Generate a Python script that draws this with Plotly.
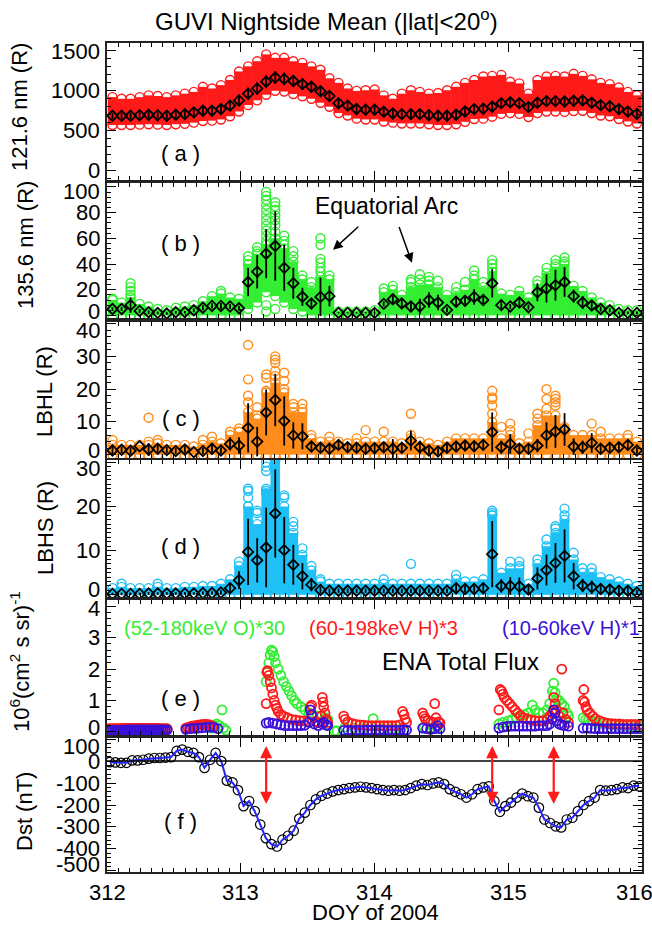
import plotly.graph_objects as go

# ---------------- data ----------------
orbit_doy = [312.041, 312.109, 312.176, 312.244, 312.311, 312.379, 312.447, 312.514, 312.582, 312.649,
             312.717, 312.785, 312.852, 312.920, 312.987, 313.055, 313.123, 313.190, 313.258, 313.325,
             313.393, 313.461, 313.528, 313.596, 313.663, 313.731, 313.799, 313.866, 313.934, 314.001,
             314.069, 314.137, 314.204, 314.272, 314.339, 314.407, 314.475, 314.542, 314.610, 314.677,
             314.745, 314.813, 314.880, 314.948, 315.015, 315.083, 315.151, 315.218, 315.286, 315.353,
             315.421, 315.489, 315.556, 315.624, 315.691, 315.759, 315.827, 315.894, 315.962]

# (a) 121.6 nm
lya_mean = [686, 686, 686, 694, 699, 694, 686, 699, 707, 729, 750, 750, 771, 814, 879, 964, 1029, 1114, 1166, 1149,
            1123, 1084, 1050, 994, 934, 844, 814, 771, 763, 763, 737, 716, 707, 707, 707, 694, 686, 686, 699, 740,
            770, 775, 800, 845, 855, 845, 795, 850, 870, 870, 865, 875, 880, 850, 820, 805, 770, 740, 710]
lya_std = [40, 40, 40, 45, 45, 45, 45, 50, 50, 55, 60, 60, 60, 65, 70, 75, 75, 80, 80, 80,
           75, 70, 70, 70, 65, 60, 55, 55, 50, 50, 50, 50, 50, 50, 50, 50, 50, 50, 50, 55,
           60, 60, 65, 65, 65, 65, 60, 65, 65, 65, 65, 70, 70, 65, 60, 60, 55, 55, 50]
lya_lo = [570, 570, 570, 575, 580, 575, 570, 580, 585, 600, 620, 625, 640, 680, 740, 820, 880, 950, 1000, 990,
          960, 930, 900, 850, 800, 720, 690, 650, 640, 640, 615, 600, 590, 590, 590, 580, 570, 570, 580, 610,
          645, 650, 675, 710, 720, 710, 670, 720, 740, 740, 735, 745, 750, 720, 690, 680, 645, 615, 590]
lya_hi = [921, 900, 900, 920, 943, 935, 921, 943, 964, 986, 1050, 1029, 1071, 1136, 1243, 1307, 1371, 1457, 1414, 1414,
          1371, 1350, 1307, 1264, 1157, 1100, 1029, 999, 1007, 1016, 943, 900, 964, 1007, 986, 964, 973, 1007, 1050, 1100,
          1136, 1179, 1187, 1200, 1114, 1093, 964, 1136, 1179, 1187, 1179, 1213, 1187, 1144, 1100, 1084, 1041, 986, 943]
lya_extra_k = []
lya_extra_v = []

# (b) 135.6 nm
oi_mean = [5, 5, 8, 3.5, 2.5, 2, 1.5, 2.5, 2.5, 4, 6, 7.4, 7.4, 7, 5.6, 26, 34, 48, 54, 37,
           25, 14.5, 9.3, 14.4, 15, 2, 2, 2, 2, 2, 9, 12.6, 9.3, 7, 7, 12, 10, 4.3, 10.6, 11.4,
           14.4, 12, 25, 8, 7, 10, 6.4, 18, 21, 23.5, 26, 15, 10, 7.7, 5, 4, 2, 2, 2]
oi_std = [1.5, 1.5, 6, 1.5, 1.5, 1, 1, 1, 1, 1.5, 2, 2, 2.5, 2, 2, 11, 13, 19, 27, 18,
          12, 7, 4, 15, 8, 0.5, 0.5, 0.5, 0.5, 0.5, 2, 4, 3, 4, 6, 6, 6, 2, 3, 3,
          6, 4, 11, 3, 2, 4, 2, 7, 11, 12, 11.5, 5, 5, 3, 2, 1.5, 1, 1, 1]
oi_lo = [0, 0, 0, 0, 0, 0, 0, 0, 0, 0, 0, 0, 0, 0, 0, 5, 10, 18, 15, 10,
         5, 3, 0, 0, 0, 0, 0, 0, 0, 0, 0, 0, 0, 0, 0, 0, 0, 0, 0, 0,
         0, 0, 0, 0, 0, 0, 0, 0, 0, 0, 0, 0, 0, 0, 0, 0, 0, 0, 0]
oi_top = [12, 10, 14, 9, 7, 5, 4, 6, 7, 8, 11, 15, 17, 14, 13, 40, 48, 55, 60, 52,
          42, 28, 22, 30, 28, 3, 3, 3, 3, 4, 18, 20, 16, 22, 24, 24, 22, 16, 18, 20,
          28, 22, 34, 17, 16, 19, 14, 24, 33, 38, 40, 23, 19, 14, 10, 8, 5, 4, 4]
oi_extra_k = [0, 2, 2, 2, 2, 12, 15, 15, 16, 16, 17, 17, 17, 17, 17, 17, 17, 17, 17, 17, 17, 17, 17,
              18, 18, 18, 18, 18, 18, 18, 18, 19, 19, 19, 20, 20, 21, 22, 23, 23, 23, 23, 23, 23, 24,
              30, 31, 33, 33, 34, 34, 35, 35, 36, 38, 39, 40, 40, 41, 42, 42, 42, 47, 48, 49, 49, 50, 50]
oi_extra_v = [13, 25, 22, 19, 16, 19, 46, 43, 53, 50, 96, 93, 90, 86, 82, 78, 74, 70, 66, 62, 58, 3, 8,
              88, 85, 82, 78, 74, 70, 65, 5, 62, 58, 55, 50, 46, 31, 26, 60, 55, 44, 41, 37, 34, 31,
              21, 23, 28, 26, 32, 28, 30, 27, 27, 22, 26, 35, 31, 26, 43, 40, 37, 27, 37, 43, 40, 45, 42]

# (c) LBHL
lbhl_mean = [1.3, 1.5, 1.2, 2.6, 1.6, 1.8, 1.4, 1.1, 1.6, 0.8, 1.1, 1.8, 1.3, 3.3, 2.8, 8.2, 4, 12.9, 16.7, 10.3,
             5.9, 5.6, 2.5, 2.1, 1.8, 3, 2.3, 2.1, 1.8, 2, 2.3, 1.8, 2.1, 4.3, 2.3, 1.3, 1.0, 2.1, 2.5, 2.8,
             2.6, 3, 6.9, 2.3, 3.3, 1.8, 1.8, 2.8, 5.9, 7.1, 7.7, 2.5, 2.3, 3.6, 1.8, 2.1, 2.3, 3, 1.3]
lbhl_std = [1.5, 1, 1, 0, 2, 1.5, 1, 1, 1, 0, 1, 1.5, 1, 2, 2.5, 7.5, 4.5, 7, 8, 7.5,
            4, 4, 1.5, 1.5, 1.5, 1.5, 1.5, 1.5, 1.5, 1.5, 1.5, 3, 1.5, 3, 2, 1, 1, 1.5, 1.5, 1.5,
            1.5, 1.5, 6, 2, 3, 1.5, 1.5, 2, 4, 5, 5, 2.5, 2, 3, 1.5, 1.5, 1.5, 1.5, 1]
lbhl_lo = [0, 0, 0, 0, 0, 0, 0, 0, 0, 0, 0, 0, 0, 0, 0, 0, 0, 0, 0, 0,
           0, 0, 0, 0, 0, 0, 0, 0, 0, 0, 0, 0, 0, 0, 0, 0, 0, 0, 0, 0,
           0, 0, 0, 0, 0, 0, 0, 0, 0, 0, 0, 0, 0, 0, 0, 0, 0, 0, 0]
lbhl_top = [3, 3, 3, 3, 3, 3.5, 3, 3, 3, 2.5, 3, 4, 3.5, 6, 7, 13, 11, 19, 22, 19,
            13, 13, 5, 4, 4, 4, 3.5, 3.5, 4, 4, 4, 4, 3.5, 5, 4, 3.5, 3, 4, 5, 5,
            5, 5, 10, 5, 6, 3.5, 4, 9, 12, 12, 8, 6, 6, 6, 5, 5, 5, 5, 4]
lbhl_extra_k = [0, 4, 4, 5, 10, 11, 13, 14, 14, 15, 15, 15, 15, 16, 16, 16, 17, 17, 17, 18, 18, 18, 18, 18,
                19, 19, 19, 20, 20, 21, 21, 22, 24, 27, 28, 30, 33, 33, 42, 42, 42, 42, 42, 43, 44, 44,
                46, 47, 47, 48, 48, 48, 49, 49, 49, 49, 50, 53, 54, 57]
lbhl_extra_v = [4.5, 11.3, 4, 4.5, 4.5, 5.5, 7, 8, 7, 33.5, 23, 18, 16, 14.5, 12, 11, 24.5, 23.5, 19.5, 30, 29, 28, 25.5, 24,
                25, 22.5, 20, 15.5, 14.5, 15.5, 14, 6, 5.5, 5, 7.5, 7, 12.5, 6, 19.5, 17.5, 17, 15, 12.5, 8.5, 9.5, 7.5,
                6.5, 12.5, 11, 20, 17, 14, 18, 17, 16, 15, 8.5, 9.5, 7, 6]

# (d) LBHS
lbhs_mean = [0.2, 0.2, 0.2, 0.2, 0.3, 0.3, 0.3, 0.3, 0.3, 0.3, 0.4, 0.4, 0.5, 1.5, 3.3, 9.7, 7.8, 10.7, 18.4, 10.1,
             6.8, 4.2, 2.3, 1.1, 0.9, 0.9, 0.9, 0.9, 0.9, 0.9, 0.9, 0.9, 0.9, 0.9, 0.9, 0.9, 0.9, 0.9, 1.5, 1.3,
             1.3, 1.5, 9.2, 2, 2, 1.9, 1.2, 3.7, 5.6, 7.2, 8.8, 4.2, 2.1, 1.7, 1.3, 1.2, 0.9, 0.9, 0.5]
lbhs_std = [0.3, 0.3, 0.3, 0.3, 0.3, 0.3, 0.3, 0.3, 0.3, 0.3, 0.4, 0.4, 0.5, 1, 2, 7.5, 5, 9, 10, 7.5,
            4.5, 3, 1.5, 0.8, 0.5, 0.5, 0.5, 0.5, 0.5, 0.5, 0.5, 0.5, 0.5, 0.5, 0.5, 0.5, 0.5, 0.5, 1, 0.8,
            0.8, 1, 7.5, 1.5, 2, 2, 0.8, 2.5, 3.5, 4.5, 6, 3, 1.5, 1.5, 1, 1, 0.8, 0.8, 0.5]
lbhs_lo = [0, 0, 0, 0, 0, 0, 0, 0, 0, 0, 0, 0, 0, 0, 0, 0, 0, 0, 0, 0,
           0, 0, 0, 0, 0, 0, 0, 0, 0, 0, 0, 0, 0, 0, 0, 0, 0, 0, 0, 0,
           0, 0, 0, 0, 0, 0, 0, 0, 0, 0, 0, 0, 0, 0, 0, 0, 0, 0, 0]
lbhs_top = [1.5, 1.8, 1.5, 1.5, 1.5, 1.8, 1.5, 1.5, 1.8, 1.8, 2, 2, 2.5, 3.5, 6.5, 20, 16, 24, 30.5, 20,
            14, 9, 5.5, 3, 2.5, 2.5, 2.5, 2.5, 2.5, 2.5, 2.5, 2.5, 2.5, 2.5, 2.5, 2.5, 2.5, 2.5, 3.5, 3,
            3, 3.5, 18, 5, 6, 6, 2.5, 7, 11, 14, 17, 8, 5, 5, 4, 3.5, 3, 2.5, 2]
lbhs_extra_k = [1, 5, 14, 15, 15, 15, 15, 16, 16, 17, 17, 17, 17, 17, 19, 19, 20, 20, 21, 22, 23, 30, 33, 38,
                42, 42, 42, 44, 45, 45, 47, 48, 49, 49, 50, 50, 51, 52, 53]
lbhs_extra_v = [2.5, 2.5, 7.5, 24, 23.5, 22, 20, 19, 18.5, 30, 29, 28, 23.5, 23, 22.5, 22, 16.5, 15.5, 10.5, 6.5, 3.5, 3.5, 7, 4.5,
                19, 18.5, 18, 7.5, 7.5, 6.5, 8, 12.5, 15.5, 15, 19.5, 18, 9.5, 6, 6]

# (e) ENA total flux
ena_o_t = [312.78, 312.80, 312.82, 312.84, 312.86, 312.87, 312.89,
           313.19, 313.20, 313.21, 313.22, 313.23, 313.24, 313.25, 313.26, 313.28, 313.30, 313.32, 313.34, 313.36,
           313.38, 313.40, 313.42, 313.45, 313.48, 313.51, 313.54, 313.57, 313.60, 313.63, 313.65,
           313.70, 313.72,
           313.78, 313.85, 313.92, 313.99, 314.06, 314.13, 314.20,
           314.37, 314.42, 314.47,
           314.93, 314.96, 315.00, 315.03, 315.06, 315.09, 315.12, 315.15, 315.18, 315.20, 315.23, 315.26, 315.29,
           315.31, 315.33, 315.34, 315.35, 315.36, 315.38, 315.40, 315.42, 315.44, 315.45,
           315.56, 315.58, 315.60, 315.63, 315.66, 315.70, 315.74, 315.78, 315.82, 315.86, 315.90, 315.94, 315.98]
ena_o_v = [0.12, 0.2, 0.25, 0.2, 0.7, 0.12, 0.05,
           1.6, 1.9, 2.2, 2.45, 2.6, 2.55, 2.4, 2.2, 2.0, 1.8, 1.6, 1.45, 1.3,
           1.15, 1.0, 0.9, 0.8, 0.7, 0.6, 0.55, 0.5, 0.5, 0.45, 0.4,
           0.03, 0.03,
           0.15, 0.12, 0.12, 0.42, 0.1, 0.1, 0.1,
           0.15, 0.12, 0.12,
           0.25, 0.3, 0.35, 0.4, 0.45, 0.5, 0.55, 0.6, 0.85, 0.7, 0.6, 0.6, 0.7,
           0.9, 1.3, 1.55, 1.25, 1.05, 1.0, 0.9, 0.8, 0.6, 0.5,
           0.45, 0.4, 0.38, 0.35, 0.3, 0.28, 0.25, 0.22, 0.2, 0.2, 0.18, 0.18, 0.17]

ena_hh_t = [312.00, 312.015, 312.03, 312.045, 312.06, 312.075, 312.09, 312.105, 312.12, 312.135, 312.15, 312.165,
            312.18, 312.195, 312.21, 312.225, 312.24, 312.255, 312.27, 312.285, 312.30, 312.315, 312.33, 312.345,
            312.36, 312.375, 312.39, 312.405, 312.42, 312.435, 312.45,
            312.59, 312.605, 312.62, 312.635, 312.65, 312.665, 312.68, 312.695, 312.71, 312.725, 312.74, 312.755,
            312.77, 312.79,
            313.19, 313.195, 313.20, 313.21, 313.22, 313.23, 313.24, 313.25, 313.26, 313.27, 313.28, 313.30, 313.32, 313.35,
            313.38, 313.41, 313.44, 313.47, 313.50, 313.52, 313.53, 313.54, 313.56, 313.58, 313.60, 313.61, 313.615, 313.62,
            313.63, 313.64, 313.65,
            313.77, 313.78, 313.80, 313.83, 313.86, 313.89, 313.92, 313.95, 313.98, 314.01, 314.04, 314.07, 314.10, 314.13,
            314.16, 314.19, 314.21, 314.22, 314.23, 314.24,
            314.36, 314.37, 314.38, 314.40, 314.42, 314.44, 314.45, 314.46, 314.48, 314.49,
            314.93, 314.94, 314.95, 314.96, 314.97, 314.99, 315.01, 315.03, 315.05, 315.07, 315.09, 315.11, 315.14, 315.17,
            315.20, 315.23, 315.26, 315.29, 315.31, 315.33, 315.34, 315.35, 315.36, 315.38, 315.40, 315.41, 315.43, 315.45,
            315.56, 315.565, 315.57, 315.58, 315.59, 315.61, 315.63, 315.65, 315.68, 315.71, 315.74, 315.77, 315.80, 315.83,
            315.86, 315.89, 315.92, 315.95, 315.98, 316.0]
ena_hh_v = [0.09, 0.1, 0.1, 0.1, 0.1, 0.1, 0.1, 0.11, 0.11, 0.11, 0.11, 0.11,
            0.11, 0.11, 0.11, 0.11, 0.11, 0.11, 0.11, 0.11, 0.11, 0.11, 0.11, 0.11,
            0.11, 0.11, 0.11, 0.1, 0.1, 0.1, 0.1,
            0.12, 0.14, 0.16, 0.18, 0.19, 0.2, 0.21, 0.22, 0.23, 0.24, 0.24, 0.23,
            0.22, 0.18,
            0.9, 1.9, 1.95, 1.8, 1.6, 1.4, 1.2, 1.0, 0.85, 0.75, 0.65, 0.55, 0.5, 0.45,
            0.4, 0.38, 0.36, 0.35, 0.33, 0.8, 0.85, 0.5, 0.33, 0.3, 0.5, 1.1, 0.95, 0.8,
            0.6, 0.4, 0.3,
            0.5, 0.4, 0.32, 0.27, 0.24, 0.22, 0.21, 0.2, 0.2, 0.2, 0.2, 0.2, 0.2, 0.2,
            0.2, 0.22, 0.65, 0.55, 0.4, 0.3,
            0.6, 0.5, 0.42, 0.36, 0.32, 0.3, 0.9, 0.45, 0.32, 0.28,
            0.7, 1.35, 1.3, 1.2, 1.1, 1.0, 0.9, 0.8, 0.7, 0.6, 0.52, 0.46, 0.42, 0.38,
            0.36, 0.35, 0.36, 0.4, 0.5, 0.6, 1.1, 0.9, 0.7, 0.5, 2.0, 0.6, 0.4, 0.3,
            1.0, 1.35, 0.95, 0.8, 0.7, 0.6, 0.5, 0.42, 0.36, 0.31, 0.28, 0.26, 0.25, 0.25,
            0.24, 0.24, 0.24, 0.24, 0.23, 0.23]

ena_hl_t = [312.00, 312.015, 312.03, 312.045, 312.06, 312.075, 312.09, 312.105, 312.12, 312.135, 312.15, 312.165,
            312.18, 312.195, 312.21, 312.225, 312.24, 312.255, 312.27, 312.285, 312.30, 312.315, 312.33, 312.345,
            312.36, 312.375, 312.39, 312.405, 312.42, 312.435, 312.45,
            312.59, 312.62, 312.65, 312.68, 312.71, 312.74, 312.77, 312.80, 312.83,
            313.19, 313.21, 313.24, 313.27, 313.30, 313.33, 313.36, 313.39, 313.42, 313.45, 313.48, 313.51, 313.52, 313.53,
            313.55, 313.58, 313.61, 313.62, 313.64, 313.65,
            313.77, 313.80, 313.83, 313.86, 313.89, 313.92, 313.95, 313.98, 314.01, 314.04, 314.07, 314.10, 314.13, 314.16,
            314.19, 314.22, 314.24,
            314.36, 314.39, 314.42, 314.45, 314.47, 314.49,
            314.93, 314.96, 314.99, 315.02, 315.05, 315.08, 315.11, 315.14, 315.17, 315.20, 315.23, 315.26, 315.29, 315.31,
            315.33, 315.34, 315.35, 315.36, 315.38, 315.40, 315.42, 315.45,
            315.56, 315.59, 315.62, 315.65, 315.68, 315.71, 315.74, 315.77, 315.80, 315.83, 315.86, 315.89, 315.92, 315.95, 315.98]
ena_hl_v = [0.05, 0.05, 0.05, 0.05, 0.05, 0.05, 0.05, 0.05, 0.05, 0.06, 0.06, 0.06,
            0.06, 0.06, 0.06, 0.06, 0.06, 0.06, 0.06, 0.06, 0.06, 0.06, 0.06, 0.06,
            0.06, 0.06, 0.06, 0.06, 0.06, 0.06, 0.06,
            0.08, 0.1, 0.11, 0.12, 0.13, 0.14, 0.15, 0.14, 0.1,
            0.28, 0.3, 0.28, 0.25, 0.22, 0.2, 0.2, 0.2, 0.2, 0.2, 0.21, 0.3, 0.7, 0.55,
            0.25, 0.2, 0.25, 0.3, 0.22, 0.2,
            0.05, 0.05, 0.05, 0.05, 0.05, 0.05, 0.06, 0.06, 0.06, 0.06, 0.05, 0.05, 0.05, 0.05,
            0.05, 0.06, 0.06,
            0.12, 0.1, 0.08, 0.1, 0.2, 0.1,
            0.12, 0.15, 0.17, 0.18, 0.18, 0.18, 0.18, 0.18, 0.18, 0.18, 0.2, 0.2, 0.2, 0.25,
            0.4, 0.7, 0.6, 0.35, 0.25, 0.22, 0.2, 0.18,
            0.12, 0.12, 0.11, 0.1, 0.1, 0.1, 0.1, 0.1, 0.1, 0.1, 0.1, 0.1, 0.1, 0.1, 0.1]

# (f) Dst, hourly from DOY 312 00 UT
dst_hour = list(range(96))
dst_nT = [-5, -6, -8, -8, 3, 3, 6, 11, 14, 14,
          16, 18, 46, 52, 42, 37, 18, -31, 6, 37,
          0, -89, -97, -132, -205, -182, -228, -289, -351, -378,
          -389, -358, -340, -317, -262, -235, -200, -174, -158, -148,
          -138, -132, -128, -123, -120, -117, -120, -123, -128, -132,
          -135, -132, -135, -132, -123, -112, -105, -109, -102, -97,
          -105, -128, -140, -151, -166, -151, -128, -120, -115, -182,
          -231, -205, -189, -166, -148, -160, -166, -212, -266, -282,
          -297, -302, -266, -258, -228, -200, -182, -166, -132, -135,
          -132, -128, -120, -123, -112, -115]
storm_arrow_doy = [313.19, 314.88, 315.34]

x_ticks = [312, 313, 314, 315, 316]
y_ticks = [[0, 500, 1000, 1500], [0, 20, 40, 60, 80, 100], [0, 10, 20, 30, 40],
           [0, 10, 20, 30], [0, 1, 2, 3, 4], [100, 0, -100, -200, -300, -400, -500]]

# ---------------- figure ----------------
FONT = "Liberation Sans, Arial, Helvetica, sans-serif"
W, H = 652, 927
L, R, T, B = 107, 10, 43, 55
PH = H - T - B
PW = W - L - R

panels_px = [(43, 180), (183, 318), (322, 458), (460, 597), (600, 735), (738, 872)]
y_ranges = [[-120, 1600], [-2, 103], [-1, 40.5], [-0.5, 30.5], [-0.1, 4.2], [-505, 105]]
y_minor = [100, 4, 2, 1, 0.2, 20]


def dom(top, bot):
    return [(H - B - bot) / PH, (H - B - top) / PH]


def px2paper_x(px):
    return (px - L) / PW


def px2paper_y(py):
    return (H - B - py) / PH


fig = go.Figure()

RED = "#ff1a1a"
GREEN = "#33ee33"
ORANGE = "#ff8c1a"
CYAN = "#1ec0f5"
PURPLE = "#3a10d8"


def orbit_panel(n, mean, std, lo, top, ek, ev, color):
    xa = "x" if n == 1 else f"x{n}"
    ya = "y" if n == 1 else f"y{n}"
    bx, by = [], []
    for t, a, b in zip(orbit_doy, lo, top):
        bx += [t, t, None]
        by += [a, b, None]
    fig.add_trace(go.Scatter(x=bx, y=by, mode="lines", line=dict(color=color, width=9.6),
                             xaxis=xa, yaxis=ya, hoverinfo="skip", showlegend=False))
    cx = orbit_doy + orbit_doy + [orbit_doy[k] for k in ek]
    cy = lo + top + ev
    fig.add_trace(go.Scatter(x=cx, y=cy, mode="markers",
                             marker=dict(symbol="circle-open", size=9, color=color,
                                         line=dict(width=1.4, color=color)),
                             xaxis=xa, yaxis=ya, hoverinfo="skip", showlegend=False))
    fig.add_trace(go.Scatter(x=orbit_doy, y=mean, mode="markers",
                             marker=dict(symbol="diamond-open", size=8, color="black",
                                         line=dict(width=1.8, color="black")),
                             error_y=dict(type="data", array=std, visible=True, color="black",
                                          thickness=1.8, width=0),
                             xaxis=xa, yaxis=ya, showlegend=False))


orbit_panel(1, lya_mean, lya_std, lya_lo, lya_hi, lya_extra_k, lya_extra_v, RED)
orbit_panel(2, oi_mean, oi_std, oi_lo, oi_top, oi_extra_k, oi_extra_v, GREEN)
orbit_panel(3, lbhl_mean, lbhl_std, lbhl_lo, lbhl_top, lbhl_extra_k, lbhl_extra_v, ORANGE)
orbit_panel(4, lbhs_mean, lbhs_std, lbhs_lo, lbhs_top, lbhs_extra_k, lbhs_extra_v, CYAN)

for tt, vv, cc in [(ena_o_t, ena_o_v, GREEN), (ena_hh_t, ena_hh_v, RED), (ena_hl_t, ena_hl_v, PURPLE)]:
    fig.add_trace(go.Scatter(x=tt, y=vv, mode="markers",
                             marker=dict(symbol="circle-open", size=9, color=cc, line=dict(width=1.8, color=cc)),
                             xaxis="x5", yaxis="y5", showlegend=False))

dst_doy = [312 + (h + 0.5) / 24 for h in dst_hour]
fig.add_trace(go.Scatter(x=dst_doy, y=dst_nT, mode="markers",
                         marker=dict(symbol="circle-open", size=9.5, color="black", line=dict(width=1.2, color="black")),
                         xaxis="x6", yaxis="y6", showlegend=False))
fig.add_trace(go.Scatter(x=dst_doy, y=dst_nT, mode="lines", line=dict(color="#2424ff", width=2),
                         xaxis="x6", yaxis="y6", showlegend=False))

tickfont = dict(family=FONT, size=22, color="black")
ann = []
for i in range(6):
    n = i + 1
    xk = "xaxis" if n == 1 else f"xaxis{n}"
    yk = "yaxis" if n == 1 else f"yaxis{n}"
    ya = "y" if n == 1 else f"y{n}"
    xa = "x" if n == 1 else f"x{n}"
    top, bot = panels_px[i]
    fig.layout[xk] = dict(domain=[0, 1], anchor=ya, range=[312, 316], tickvals=x_ticks,
                          showticklabels=False, automargin=False,
                          ticks="inside", ticklen=9, tickwidth=1.3, tickcolor="black",
                          minor=dict(ticks="inside", dtick=1 / 12, tick0=312, ticklen=4, tickwidth=1, tickcolor="black"),
                          showline=True, linecolor="#222", linewidth=1.6, mirror="ticks",
                          showgrid=False, zeroline=False)
    r0, r1 = y_ranges[i]
    fig.layout[yk] = dict(domain=dom(top, bot), anchor=xa, range=[r0, r1], tickvals=y_ticks[i],
                          showticklabels=False, automargin=False,
                          ticks="inside", ticklen=9, tickwidth=1.3, tickcolor="black",
                          minor=dict(ticks="inside", dtick=y_minor[i], ticklen=4, tickwidth=1, tickcolor="black"),
                          showline=True, linecolor="#222", linewidth=1.6, mirror="ticks",
                          showgrid=False, zeroline=False)
    # y tick labels, kept inside the panel's vertical extent like the original
    for v in y_ticks[i]:
        p = top + (r1 - v) / (r1 - r0) * (bot - top)
        c = min(max(p, top + 8), bot - 7)
        ann.append(dict(xref="paper", yref=ya, x=px2paper_x(102), y=v, yshift=p - c, text=str(v),
                        showarrow=False, font=tickfont, xanchor="right", yanchor="middle"))

# x tick labels (bottom panel)
for v in x_ticks:
    ann.append(dict(xref="x6", yref="paper", x=v, y=px2paper_y(892), text=str(v), showarrow=False,
                    font=tickfont, xanchor="center", yanchor="middle", xshift=(-8 if v == 316 else 0)))

# zero line in Dst panel
fig.add_shape(type="line", xref="x6", yref="y6", x0=312, x1=316, y0=0, y1=0, line=dict(color="black", width=1.5))

# title
ann.append(dict(xref="paper", yref="paper", x=px2paper_x(326), y=px2paper_y(20),
                text="GUVI Nightside Mean (|lat|<20<sup>o</sup>)", showarrow=False,
                font=dict(family=FONT, size=24, color="black"), xanchor="center", yanchor="middle"))
# y titles
ytitles = [("121.6 nm (R)", 20, 107), ("135.6 nm (R)", 26, 245), ("LBHL (R)", 45, 392), ("LBHS (R)", 45, 528),
           ("10<sup>6</sup>(cm<sup>2</sup> s sr)<sup>-1</sup>", 20, 662), ("Dst (nT)", 24, 812)]
for txt, xp, yp in ytitles:
    ann.append(dict(xref="paper", yref="paper", x=px2paper_x(xp), y=px2paper_y(yp), text=txt, textangle=-90,
                    showarrow=False, font=dict(family=FONT, size=22, color="black"),
                    xanchor="center", yanchor="middle"))
# x title
ann.append(dict(xref="paper", yref="paper", x=px2paper_x(375), y=px2paper_y(912), text="DOY of 2004", showarrow=False,
                font=dict(family=FONT, size=22, color="black"), xanchor="center", yanchor="middle"))
# panel labels
plab = [("( a )", 1, 214), ("( b )", 2, 56), ("( c )", 3, 11), ("( d )", 4, 11), ("( e )", 5, 1.07), ("( f )", 6, -274)]
for txt, n, yv in plab:
    ann.append(dict(xref="x" if n == 1 else f"x{n}", yref="y" if n == 1 else f"y{n}", x=312.55, y=yv, text=txt,
                    showarrow=False, font=dict(family=FONT, size=22, color="black"), xanchor="center", yanchor="middle"))
# Equatorial arc
ann.append(dict(xref="x2", yref="y2", x=314.09, y=85, text="Equatorial Arc", showarrow=False,
                font=dict(family=FONT, size=23, color="black"), xanchor="center", yanchor="middle"))
for (x0, y0, x1, y1) in [(313.89, 70, 313.69, 51), (314.18, 70, 314.28, 41)]:
    ann.append(dict(xref="x2", yref="y2", axref="x2", ayref="y2", x=x1, y=y1, ax=x0, ay=y0, text="",
                    showarrow=True, arrowhead=2, arrowsize=1.3, arrowwidth=1.5, arrowcolor="black",
                    standoff=0, startstandoff=0))
# ENA labels
ann.append(dict(xref="x5", yref="y5", x=312.73, y=3.3, text="(52-180keV O)*30", showarrow=False,
                font=dict(family=FONT, size=20, color=GREEN), xanchor="center", yanchor="middle"))
ann.append(dict(xref="x5", yref="y5", x=314.07, y=3.3, text="(60-198keV H)*3", showarrow=False,
                font=dict(family=FONT, size=20, color=RED), xanchor="center", yanchor="middle"))
ann.append(dict(xref="x5", yref="y5", x=316.0, y=3.3, text="(10-60keV H)*1", showarrow=False,
                font=dict(family=FONT, size=20, color=PURPLE), xanchor="right", yanchor="middle"))
ann.append(dict(xref="x5", yref="y5", x=314.64, y=2.24, text="ENA Total Flux", showarrow=False,
                font=dict(family=FONT, size=24, color="black"), xanchor="center", yanchor="middle"))
# storm arrows
for xa_ in storm_arrow_doy:
    ann.append(dict(xref="x6", yref="y6", axref="x6", ayref="y6", x=xa_, y=-195, ax=xa_, ay=75, text="",
                    showarrow=True, arrowhead=2, arrowsize=1.1, arrowwidth=2.2, arrowcolor="#ff1a1a",
                    arrowside="end+start", standoff=0, startstandoff=0))

fig.update_layout(width=W, height=H, margin=dict(l=L, r=R, t=T, b=B, autoexpand=False), annotations=ann,
                  plot_bgcolor="white", paper_bgcolor="white", showlegend=False,
                  font=dict(family=FONT, size=22, color="black"))

fig.write_html("out.html")
